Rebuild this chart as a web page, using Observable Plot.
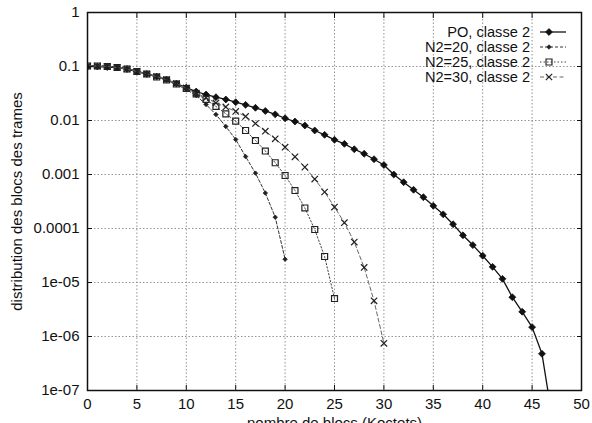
<!DOCTYPE html>
<html><head><meta charset="utf-8">
<script src="https://cdn.jsdelivr.net/npm/d3@7"></script>
<script src="https://cdn.jsdelivr.net/npm/@observablehq/plot@0.6"></script>
<style>
body{margin:0;background:#fff;}
#chart svg{display:block;}
</style></head><body><div id="chart"></div>
<script>
// ---- data ----
const seriesNames = ["PO, classe 2", "N2=20, classe 2", "N2=25, classe 2", "N2=30, classe 2"];

const blocsPO = [0,1,2,3,4,5,6,7,8,9,10,11,12,13,14,15,16,17,18,19,20,21,22,23,24,25,26,27,28,29,30,31,32,33,34,35,36,37,38,39,40,41,42,43,44,45,46,47];
const distPO = [0.100,0.100,0.0979,0.0958,0.0899,0.0808,0.0726,0.0653,0.0574,0.0484,0.0408,0.0344,0.0303,0.0270,0.0245,0.0218,0.0195,0.0172,0.0150,0.0130,0.0110,0.00958,0.00808,0.00653,0.00543,0.00439,0.00370,0.00294,0.00242,0.00192,0.00150,0.00100,0.000720,0.000521,0.000380,0.000263,0.000183,0.000120,7.48e-5,4.93e-5,3.13e-5,1.95e-5,1.17e-5,5.34e-6,2.87e-6,1.49e-6,4.78e-7,3.44e-8];

const blocsN20 = [0,1,2,3,4,5,6,7,8,9,10,11,12,13,14,15,16,17,18,19,20];
const distN20 = [0.1044,0.1044,0.1022,0.0979,0.0918,0.0825,0.0742,0.0653,0.0562,0.0464,0.0375,0.0290,0.0198,0.0129,0.00774,0.00445,0.00215,0.00106,0.000454,0.000162,2.70e-5];

const blocsN25 = [0,1,2,3,4,5,6,7,8,9,10,11,12,13,14,15,16,17,18,19,20,21,22,23,24,25];
const distN25 = [0.1022,0.1022,0.100,0.0958,0.0899,0.0808,0.0726,0.0639,0.0562,0.0474,0.0391,0.0312,0.0245,0.0182,0.0133,0.00971,0.00653,0.00426,0.00272,0.00165,0.000958,0.000505,0.000240,9.58e-5,3.03e-5,5.05e-6];

const blocsN30 = [0,1,2,3,4,5,6,7,8,9,10,11,12,13,14,15,16,17,18,19,20,21,22,23,24,25,26,27,28,29,30];
const distN30 = [0.1022,0.1022,0.100,0.0958,0.0899,0.0808,0.0726,0.0653,0.0574,0.0484,0.0400,0.0323,0.0263,0.0211,0.0178,0.0147,0.0119,0.00880,0.00634,0.00458,0.00320,0.00213,0.00137,0.000822,0.000474,0.000250,0.000128,5.62e-5,1.90e-5,4.58e-6,7.48e-7];

const xTicks = [0,5,10,15,20,25,30,35,40,45,50];
const yTicks = [1,0.1,0.01,0.001,0.0001,1e-5,1e-6,1e-7];
const yTickLabels = ["1","0.1","0.01","0.001","0.0001","1e-05","1e-06","1e-07"];
const xTitle = "nombre de blocs (Koctets)";
const yTitle = "distribution des blocs des trames";

// ---- build rows ----
const mk = (xs, ys, name) => xs.map((x, i) => ({x, y: ys[i], name}));
const dPO = mk(blocsPO, distPO, seriesNames[0]);
const dN20 = mk(blocsN20, distN20, seriesNames[1]);
const dN25 = mk(blocsN25, distN25, seriesNames[2]);
const dN30 = mk(blocsN30, distN30, seriesNames[3]);

const styles = [
  {line: {stroke: "#111", strokeWidth: 1.3}, dot: {symbol: "diamond2", r: 3.1, fill: "#111", stroke: "#111", strokeWidth: 0.8}},
  {line: {stroke: "#333", strokeWidth: 1, strokeDasharray: "3,2"}, dot: {symbol: "diamond2", r: 2, fill: "#222", stroke: "#222", strokeWidth: 0.8}},
  {line: {stroke: "#444", strokeWidth: 1, strokeDasharray: "1.5,2"}, dot: {symbol: "square2", r: 3.8, fill: "none", stroke: "#222", strokeWidth: 1.2}},
  {line: {stroke: "#666", strokeWidth: 1, strokeDasharray: "4,2.5"}, dot: {symbol: "times", r: 3, fill: "none", stroke: "#222", strokeWidth: 1.2}}
];
const datasets = [dPO, dN20, dN25, dN30];

const fontFamily = "'Liberation Sans', Arial, sans-serif";
const gridStyle = {stroke: "#888", strokeOpacity: 1, strokeWidth: 0.9, strokeDasharray: "1.5,2"};
const yFmt = (d) => yTickLabels[yTicks.indexOf(d)] ?? "";

const marks = [
  Plot.gridX({ticks: xTicks, ...gridStyle}),
  Plot.gridY({ticks: yTicks, ...gridStyle}),
];
datasets.forEach((data, i) => {
  marks.push(Plot.line(data, {x: "x", y: "y", clip: true, ...styles[i].line}));
  marks.push(Plot.dot(data, {x: "x", y: "y", clip: true, ...styles[i].dot}));
});
marks.push(
  Plot.frame({stroke: "#111", strokeWidth: 1.5}),
  Plot.axisX({anchor: "bottom", ticks: xTicks, tickSize: -5, tickPadding: 13, tickFormat: d => String(d), label: xTitle, labelAnchor: "center", labelArrow: "none", labelOffset: 37, fontSize: 15}),
  Plot.axisX({anchor: "top", ticks: xTicks, tickSize: -5, tickFormat: () => "", label: null}),
  Plot.axisY({anchor: "left", ticks: yTicks, tickSize: -5, tickPadding: 13, tickFormat: yFmt, label: yTitle, labelAnchor: "center", labelArrow: "none", labelOffset: 76, fontSize: 15}),
  Plot.axisY({anchor: "right", ticks: yTicks, tickSize: -5, tickFormat: () => "", label: null})
);

const chart = Plot.plot({
  width: 592,
  height: 423,
  marginLeft: 87,
  marginRight: 11,
  marginTop: 12,
  marginBottom: 33,
  style: {fontFamily, fontSize: "15px", color: "#111", background: "#fff", overflow: "hidden"},
  x: {domain: [0, 50]},
  y: {type: "log", domain: [1e-7, 1]},
  marks
});

// ---- legend (inside the frame, top right) ----
const svg = d3.select(chart);
const leg = svg.append("g").attr("font-family", fontFamily).attr("font-size", 14.6);
const rowY0 = 32, rowH = 15, textX = 530, lineX1 = 540, lineX2 = 566, symX = 549;
seriesNames.forEach((name, i) => {
  const yy = rowY0 + i * rowH;
  leg.append("text").attr("x", textX).attr("y", yy).attr("dy", "0.35em").attr("text-anchor", "end").attr("fill", "#111").text(name);
  const ls = styles[i].line;
  leg.append("line").attr("x1", lineX1).attr("x2", lineX2).attr("y1", yy).attr("y2", yy)
    .attr("stroke", ls.stroke).attr("stroke-width", ls.strokeWidth).attr("stroke-dasharray", ls.strokeDasharray || null);
  const ds = styles[i].dot;
  const symMap = {diamond2: d3.symbolDiamond2, square2: d3.symbolSquare2, times: d3.symbolTimes};
  leg.append("path").attr("transform", `translate(${symX},${yy})`)
    .attr("d", d3.symbol(symMap[ds.symbol], Math.PI * ds.r * ds.r)())
    .attr("fill", ds.fill).attr("stroke", ds.stroke).attr("stroke-width", ds.strokeWidth);
});

document.getElementById("chart").appendChild(chart);
</script>
</body></html>
